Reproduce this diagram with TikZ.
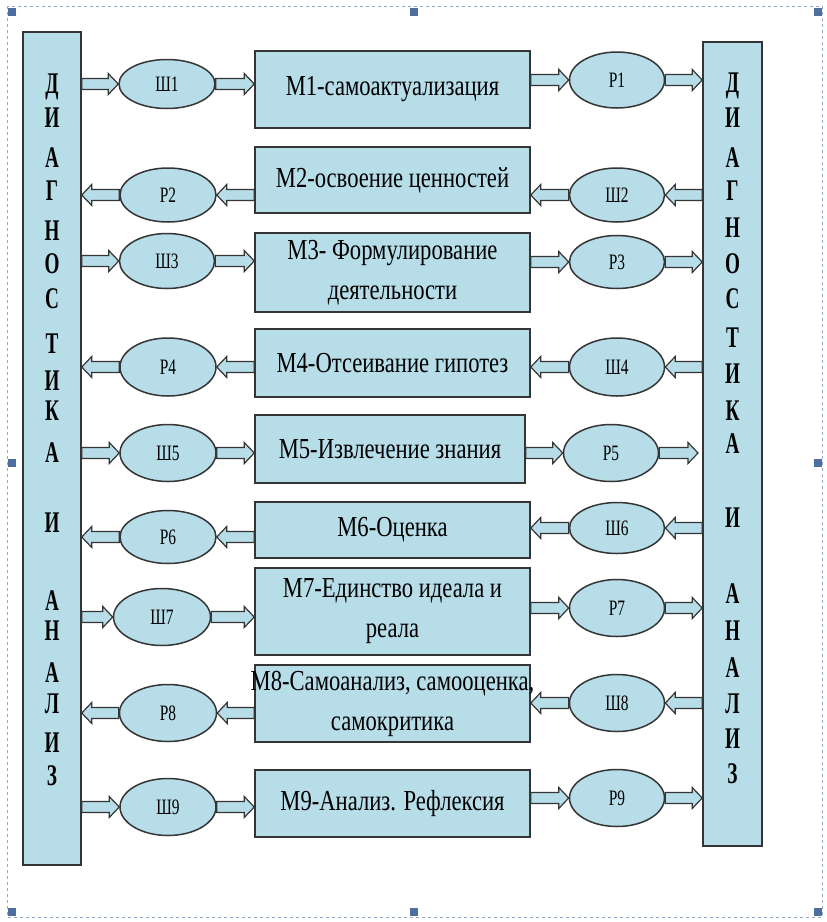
\documentclass[tikz,border=0pt]{standalone}
\usepackage{fontspec}
\setmainfont{Liberation Serif}
\newfontfamily\mfont[FakeStretch=0.78]{Liberation Serif}
\newfontfamily\efont[FakeStretch=0.70]{Liberation Serif}
\newfontfamily\sidefont[FakeStretch=0.64]{Liberation Serif}
\usetikzlibrary{shapes.geometric,calc}
\definecolor{aqua}{HTML}{B6DDE8}
\definecolor{edgec}{HTML}{353535}
\definecolor{frameblue}{HTML}{93A5C8}
\definecolor{handlec}{HTML}{4F6EA0}
\newcommand{\zw}[1]{\makebox[0pt]{#1}}
\newcommand{\barrow}[2]{%
  \path[blockarrow] let \p1=#1, \p2=#2, \n1={sign(\x2-\x1)*10} in
    (\x1,\y1+5.5pt) -- ({\x2-(\n1)*1pt},\y1+5.5pt) -- ({\x2-(\n1)*1pt},\y1+10.5pt)
    -- (\x2,\y1) -- ({\x2-(\n1)*1pt},\y1-10.5pt) -- ({\x2-(\n1)*1pt},\y1-5.5pt)
    -- (\x1,\y1-5.5pt) -- cycle;}
% row flowing to the right: left column -> sh -> m -> p -> right column
\newcommand{\rowR}[3]{%
  \barrow{(L.east |- #1)}{(#1.west)}
  \barrow{(#1.east)}{(#2.west |- #1)}
  \barrow{(#2.east |- #3)}{(#3.west)}
  \barrow{(#3.east)}{(R.west |- #3)}}
% row flowing to the left: right column -> sh -> m -> p -> left column
\newcommand{\rowL}[3]{%
  \barrow{(R.west |- #1)}{(#1.east)}
  \barrow{(#1.west)}{(#2.east |- #1)}
  \barrow{(#2.west |- #3)}{(#3.east)}
  \barrow{(#3.west)}{(L.east |- #3)}}
\tikzset{
  mbox/.style={draw=edgec, fill=aqua, line width=1.5pt, inner sep=0pt, align=center,
    font=\mfont\fontsize{29}{40}\selectfont},
  ell/.style={ellipse, draw=edgec, fill=aqua, line width=1.5pt, inner sep=0pt,
    font=\efont\fontsize{22}{24}\selectfont},
  sidebox/.style={draw=edgec, fill=aqua, line width=1.5pt, inner sep=0pt},
  sidel/.style={inner sep=0pt, text height=20pt, text depth=0pt,
    font=\sidefont\bfseries\fontsize{30}{30}\selectfont},
  blockarrow/.style={draw=edgec, fill=aqua, line width=1.2pt, line join=miter},
}
\begin{document}
\begin{tikzpicture}[x=1pt, y=-1pt]
\useasboundingbox (0,0) rectangle (827,922);
\fill[white] (0,0) rectangle (827,922);
% selection frame
\draw[frameblue, dashed, line width=0.8pt] (7,6) rectangle (822,917);
\foreach \hx/\hy in {12/12, 414/12, 818/12, 12/463, 818/463, 12/912, 414/912, 818/912}
  \fill[handlec] (\hx-4,\hy-4) rectangle (\hx+4,\hy+4);
% side columns
\node[sidebox, minimum width=58pt, minimum height=833pt] (L) at (52,448.5) {};
\node[sidebox, minimum width=59pt, minimum height=804pt] (R) at (732.5,444) {};
\foreach \l/\yy [count=\i] in {Д/83, И/117, А/157, Г/190, Н/230, О/263, С/298, Т/343, И/380, К/410, А/452, И/522, А/600, Н/630, А/672, Л/703, И/742, З/775}
  \node[sidel] (Ll\i) at (52,\yy) {\l};
\foreach \l/\yy [count=\i] in {Д/82, И/117, А/157, Г/190, Н/227, О/263, С/298, Т/337, И/373, К/410, А/443, И/517, А/593, Н/630, А/667, Л/703, И/738, З/773}
  \node[sidel] (Rl\i) at (732.5,\yy) {\l};
% middle boxes
\node[mbox, minimum width=275pt, minimum height=77pt] (m1) at (392.5,89.5) {\zw{\raisebox{-3pt}{М1-самоактуализация}}};
\node[mbox, minimum width=275pt, minimum height=66pt] (m2) at (392.5,180) {\zw{\raisebox{-2pt}{М2-освоение ценностей}}};
\node[mbox, minimum width=275pt, minimum height=79pt] (m3) at (392.5,272.5) {\zw{М3- Формулирование}\\\zw{деятельности}};
\node[mbox, minimum width=275pt, minimum height=68pt] (m4) at (392.5,363) {\zw{\raisebox{-2pt}{М4-Отсеивание гипотез}}};
\node[mbox, minimum width=270pt, minimum height=68pt] (m5) at (390,449) {\zw{\raisebox{-2pt}{М5-Извлечение знания}}};
\node[mbox, minimum width=275pt, minimum height=56pt] (m6) at (392.5,530) {\zw{\raisebox{-2pt}{М6-Оценка}}};
\node[mbox, minimum width=275pt, minimum height=87pt] (m7) at (392.5,611.5) {\zw{М7-Единство идеала и}\\\zw{реала}};
\node[mbox, minimum width=275pt, minimum height=77pt] (m8) at (392.5,703.5) {\zw{М8-Самоанализ, самооценка,}\\\zw{самокритика}};
\node[mbox, minimum width=275pt, minimum height=67pt] (m9) at (392.5,803.5) {\zw{\raisebox{-3pt}{М9-Анализ. Рефлексия}}};
% ellipses
\node[ell, minimum width=96pt, minimum height=49pt] (sh1) at (167,84) {Ш1};
\node[ell, minimum width=95pt, minimum height=56pt] (p1) at (617,80) {Р1};
\node[ell, minimum width=96pt, minimum height=54pt] (p2) at (168,195) {Р2};
\node[ell, minimum width=95pt, minimum height=54pt] (sh2) at (617,195) {Ш2};
\node[ell, minimum width=95pt, minimum height=55pt] (sh3) at (167,261) {Ш3};
\node[ell, minimum width=95pt, minimum height=53pt] (p3) at (617,262) {Р3};
\node[ell, minimum width=96pt, minimum height=58pt] (p4) at (168,367) {Р4};
\node[ell, minimum width=95pt, minimum height=58pt] (sh4) at (617,367) {Ш4};
\node[ell, minimum width=96pt, minimum height=57pt] (sh5) at (168,453) {Ш5};
\node[ell, minimum width=95pt, minimum height=57pt] (p5) at (611,453) {Р5};
\node[ell, minimum width=96pt, minimum height=53pt] (p6) at (168,537) {Р6};
\node[ell, minimum width=95pt, minimum height=51pt] (sh6) at (617,528) {Ш6};
\node[ell, minimum width=97pt, minimum height=57pt] (sh7) at (162,617) {Ш7};
\node[ell, minimum width=95pt, minimum height=57pt] (p7) at (617,608) {Р7};
\node[ell, minimum width=97pt, minimum height=57pt] (p8) at (168,713) {Р8};
\node[ell, minimum width=95pt, minimum height=57pt] (sh8) at (617,703) {Ш8};
\node[ell, minimum width=96pt, minimum height=57pt] (sh9) at (168,807) {Ш9};
\node[ell, minimum width=95pt, minimum height=57pt] (p9) at (617,798) {Р9};
\coordinate (p5end) at (698,453);
% connectors
\rowR{sh1}{m1}{p1}
\rowL{sh2}{m2}{p2}
\rowR{sh3}{m3}{p3}
\rowL{sh4}{m4}{p4}
\barrow{(L.east |- sh5)}{(sh5.west)}
\barrow{(sh5.east)}{(m5.west |- sh5)}
\barrow{(m5.east |- p5)}{(p5.west)}
\barrow{(p5.east)}{(p5end)}
\rowL{sh6}{m6}{p6}
\rowR{sh7}{m7}{p7}
\rowL{sh8}{m8}{p8}
\rowR{sh9}{m9}{p9}
\end{tikzpicture}
\end{document}
